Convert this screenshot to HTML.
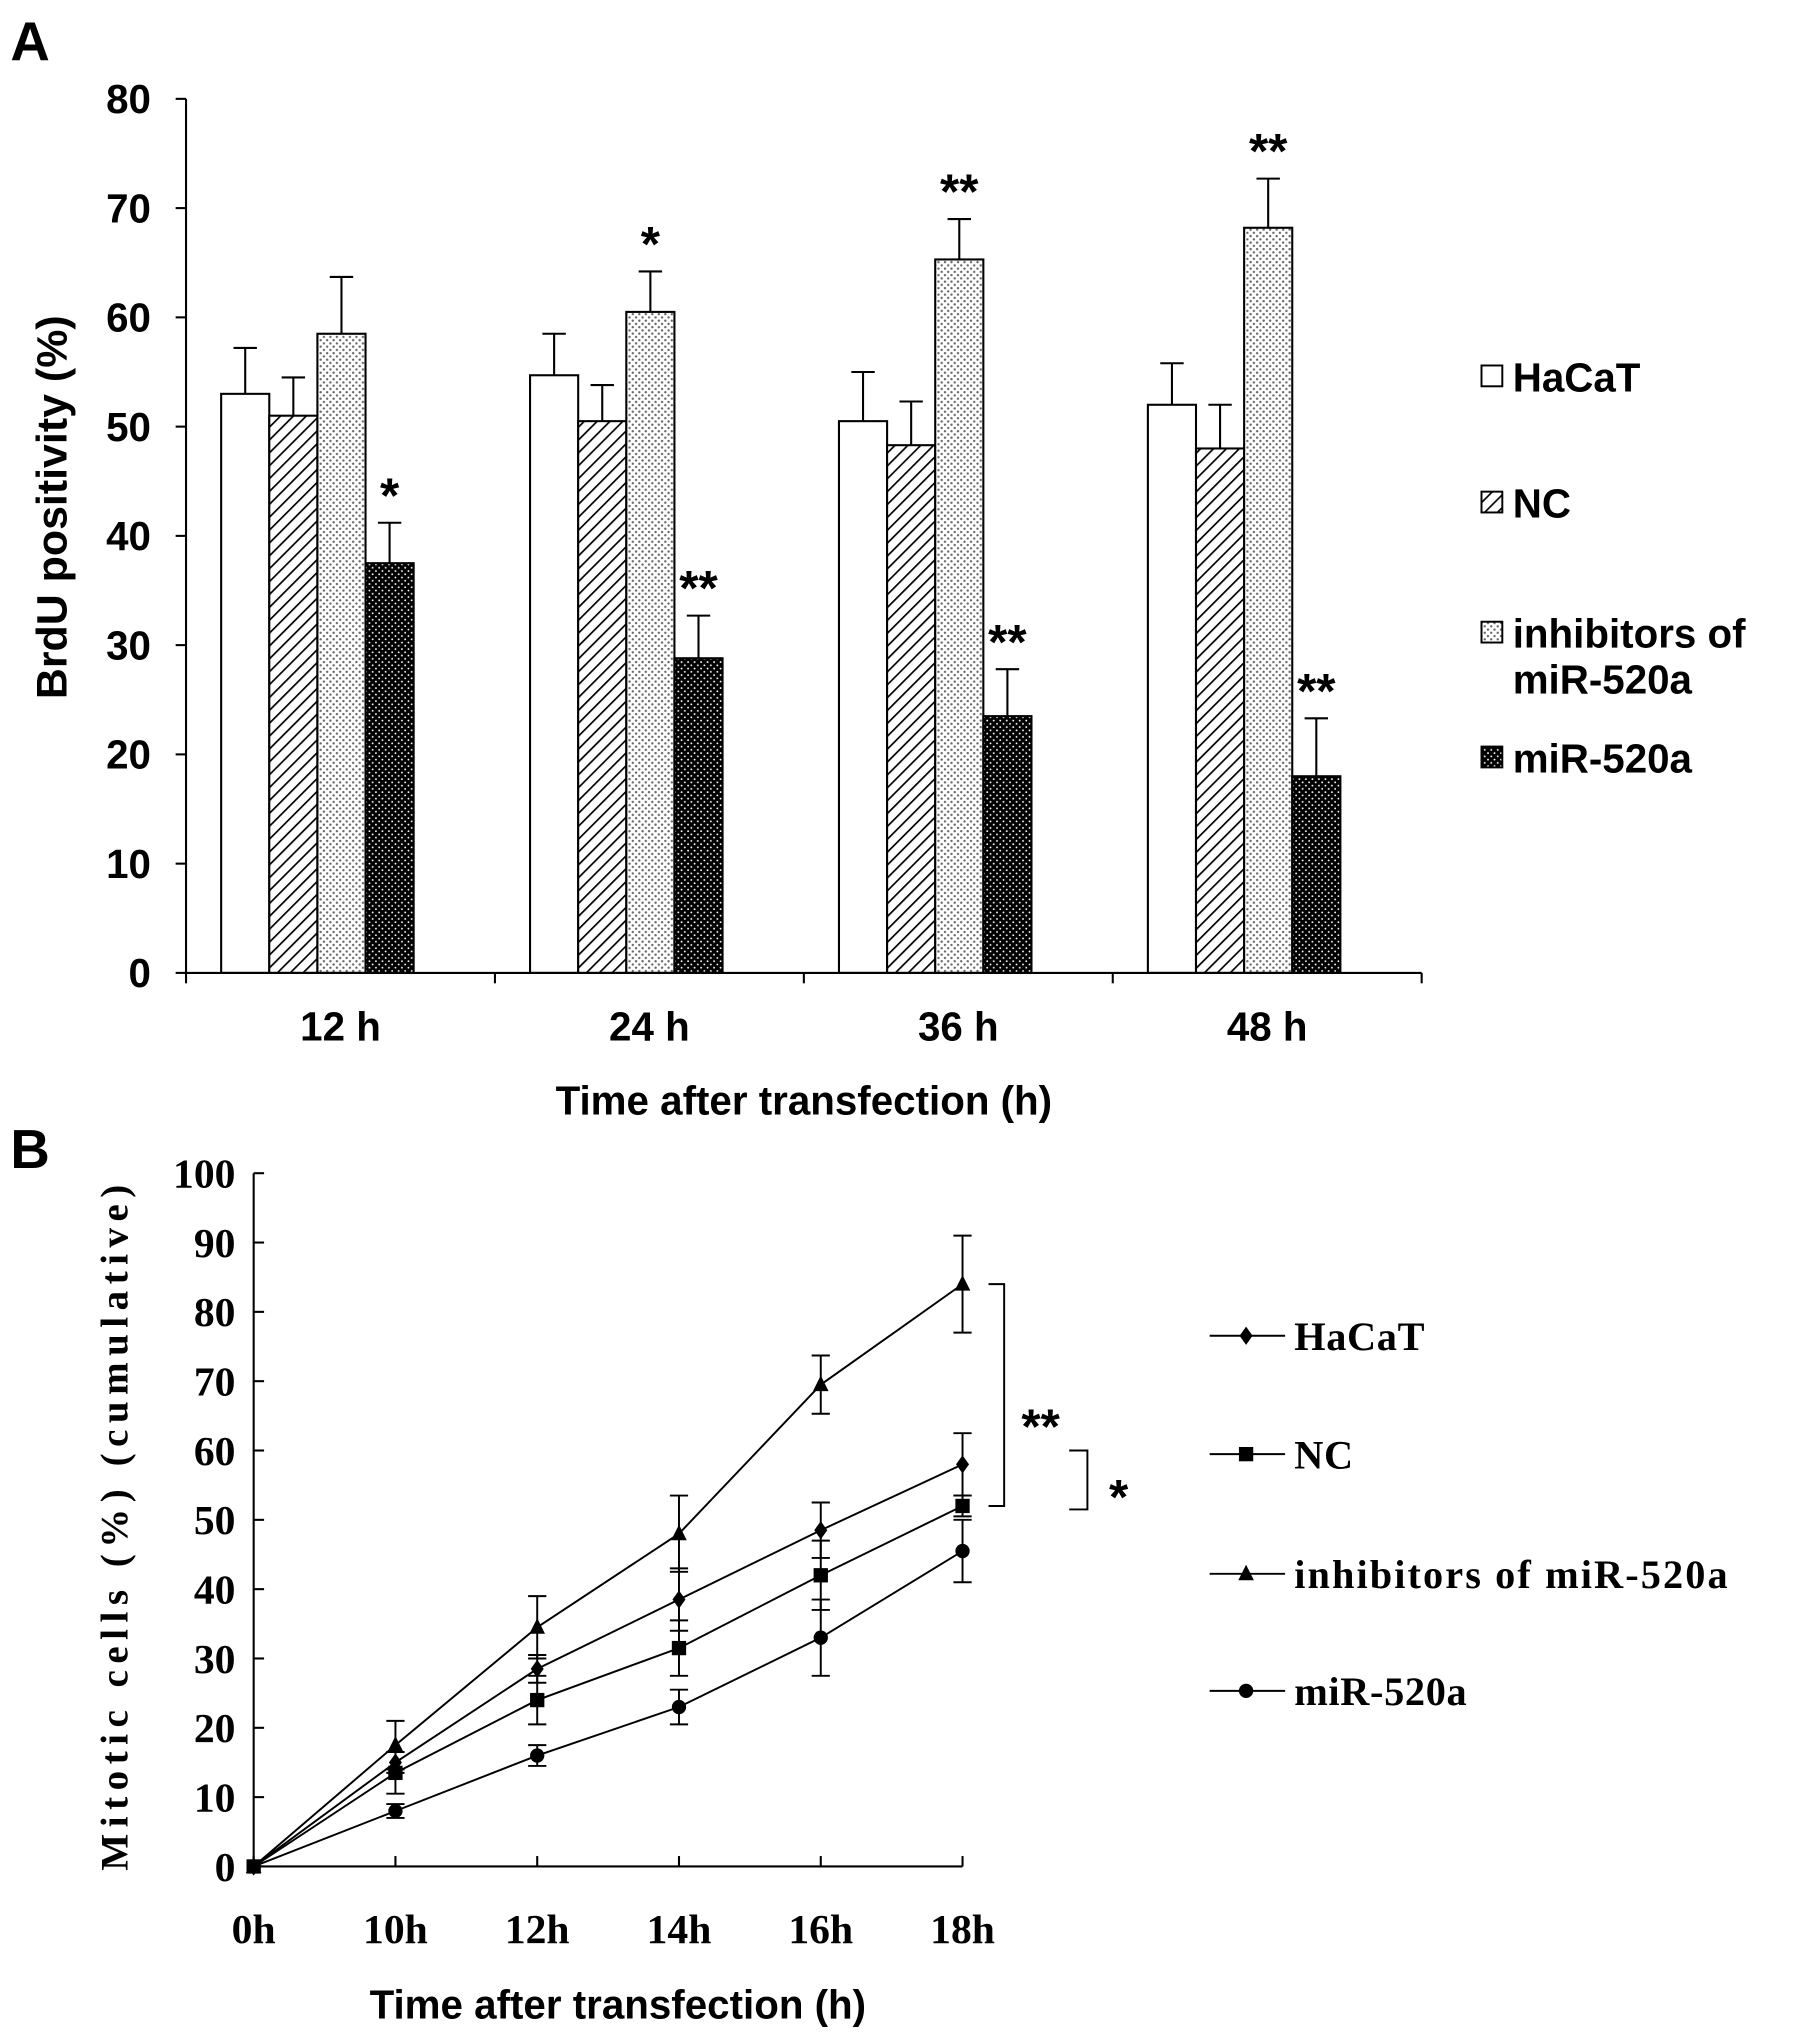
<!DOCTYPE html>
<html><head><meta charset="utf-8"><style>
html,body{margin:0;padding:0;background:#fff;}
svg{display:block;}
.sa{font-family:"Liberation Sans Narrow","Liberation Sans",sans-serif;font-weight:bold;fill:#000;}
.sw{font-family:"Liberation Sans",sans-serif;font-weight:bold;fill:#000;}
.sf{font-family:"Liberation Serif",serif;font-weight:bold;fill:#000;}
</style></head><body>
<svg id="fig" width="1795" height="2044" viewBox="0 0 1380 1571.5" xmlns="http://www.w3.org/2000/svg">
<defs>
<pattern id="hatch" patternUnits="userSpaceOnUse" width="7" height="7" patternTransform="rotate(45)">
<rect width="7" height="7" fill="#fff"/><line x1="0" y1="0" x2="0" y2="7" stroke="#000" stroke-width="2.6"/></pattern>
<pattern id="dots" patternUnits="userSpaceOnUse" width="5" height="5">
<rect width="5" height="5" fill="#fff"/><circle cx="1.5" cy="1.5" r="0.9" fill="#666"/><circle cx="4" cy="4" r="0.9" fill="#666"/></pattern>
<pattern id="dark" patternUnits="userSpaceOnUse" width="5" height="5">
<rect width="5" height="5" fill="#000"/><circle cx="1.5" cy="1.5" r="0.7" fill="#fff"/><circle cx="4" cy="4" r="0.7" fill="#fff"/></pattern>
</defs>
<g id="panelA"></g>
<g id="panelB"></g>
</svg>
<script>
// ---------- Panel A data ----------
const aCategories = ["12 h","24 h","36 h","48 h"];
const aSeriesNames = ["HaCaT","NC","inhibitors of miR-520a","miR-520a"];
const aHaCaT = [53, 54.7, 50.5, 52];
const aNC = [51, 50.5, 48.3, 48];
const aInhib = [58.5, 60.5, 65.3, 68.2];
const aMiR = [37.5, 28.8, 23.5, 18];
const aErrHaCaT = [4.2, 3.8, 4.5, 3.8];
const aErrNC = [3.5, 3.3, 4, 4];
const aErrInhib = [5.2, 3.7, 3.7, 4.5];
const aErrMiR = [3.7, 3.9, 4.3, 5.3];
const aSigInhib = ["", "*", "**", "**"];
const aSigMiR = ["*", "**", "**", "**"];
const aYTicks = [0,10,20,30,40,50,60,70,80];

// ---------- Panel B data ----------
const bCategories = ["0h","10h","12h","14h","16h","18h"];
const bHaCaT = [0, 15, 28.5, 38.5, 48.5, 58];
const bNC = [0, 13.5, 24, 31.5, 42, 52];
const bInhib = [0, 17.5, 34.5, 48, 69.5, 84];
const bMiR = [0, 8, 16, 23, 33, 45.5];
const bErrHaCaT = [0, 1.5, 2, 4.5, 4, 4.5];
const bErrNC = [0, 3, 3.5, 4, 5, 1.5];
const bErrInhib = [0, 3.5, 4.5, 5.5, 4.2, 7];
const bErrMiR = [0, 1, 1.5, 2.5, 5.5, 4.5];
const bYTicks = [0,10,20,30,40,50,60,70,80,90,100];

const NS = "http://www.w3.org/2000/svg";
function mk(parent, tag, attrs, text){
  const e = document.createElementNS(NS, tag);
  for (const k in attrs) e.setAttribute(k, attrs[k]);
  if (text !== undefined) e.textContent = text;
  parent.appendChild(e); return e;
}

// ===== Panel A =====
(function(){
  const g = document.getElementById('panelA');
  const x0 = 143, x1 = 1093, y0 = 748, y80 = 76;
  const yA = v => y0 - (v/80)*(y0-y80);
  const catW = (x1-x0)/aCategories.length;
  const barW = 37, off = 27;
  const fills = ["#fff","url(#hatch)","url(#dots)","url(#dark)"];
  const vals = [aHaCaT, aNC, aInhib, aMiR];
  const errs = [aErrHaCaT, aErrNC, aErrInhib, aErrMiR];
  const t = mk(g,'text',{x:8,y:46,class:'sw','font-size':42}, 'A');
  
  
  aCategories.forEach((c,i)=>{
    vals.forEach((arr,s)=>{
      const x = x0 + i*catW + off + s*barW;
      const v = arr[i], e = errs[s][i];
      const r = mk(g,'rect',{x:x,y:yA(v),width:barW,height:yA(0)-yA(v),fill:fills[s],stroke:'#000','stroke-width':1.6});
      
      
      const cx = x + barW/2;
      const eb = mk(g,'path',{d:`M${cx},${yA(v)}V${yA(v+e)}M${cx-9},${yA(v+e)}H${cx+9}`,stroke:'#000','stroke-width':1.6,fill:'none'});
      
      
      const sig = s===2 ? aSigInhib[i] : (s===3 ? aSigMiR[i] : "");
      if (sig){
        const st = mk(g,'text',{x:cx,y:yA(v+e)-8,'text-anchor':'middle',class:'sw','font-size':38}, sig);
        
        
      }
    });
    const lb = mk(g,'text',{x:x0+(i+0.5)*catW,y:800,'text-anchor':'middle',class:'sa','font-size':31,transform:''}, c);
    
    
  });
  const ax = mk(g,'path',{d:`M${x0},${y80}V${y0}H${x1}`,stroke:'#000','stroke-width':1.6,fill:'none'});
  
  
  for (let i=0;i<=aCategories.length;i++){
    const tk = mk(g,'line',{x1:x0+i*catW,x2:x0+i*catW,y1:y0,y2:y0+8,stroke:'#000','stroke-width':1.6});
    
    
  }
  aYTicks.forEach(v=>{
    const tk = mk(g,'line',{x1:x0-8,x2:x0,y1:yA(v),y2:yA(v),stroke:'#000','stroke-width':1.6});
    
    
    const tl = mk(g,'text',{x:116,y:yA(v)+11,'text-anchor':'end',class:'sa','font-size':31}, String(v));
    
    
  });
  const yt = mk(g,'text',{x:0,y:0,transform:'translate(51,390) rotate(-90)','text-anchor':'middle',class:'sw','font-size':33}, 'BrdU positivity (%)');
  
  
  const xt = mk(g,'text',{x:618,y:857,'text-anchor':'middle',class:'sa','font-size':31}, 'Time after transfection (h)');
  
  
  const legY = [290, 387, 487, 583];
  const legText = [["HaCaT"],["NC"],["inhibitors of","miR-520a"],["miR-520a"]];
  legY.forEach((y,s)=>{
    const sw = mk(g,'rect',{x:1139,y:y-9,width:16,height:16,fill:fills[s],stroke:'#000','stroke-width':1.5});
    
    
    legText[s].forEach((tx,k)=>{
      const lt = mk(g,'text',{x:1163,y:y+11+k*35,class:'sa','font-size':31}, tx);
      
      
    });
  });
})();

// ===== Panel B =====
(function(){
  const g = document.getElementById('panelB');
  const x0 = 195, x1 = 740, y0 = 1435, y100 = 902;
  const yB = v => y0 - (v/100)*(y0-y100);
  const step = (x1-x0)/(bCategories.length-1);
  const xB = i => x0 + i*step;
  const t = mk(g,'text',{x:8,y:898,class:'sw','font-size':42}, 'B');
  
  
  const ax = mk(g,'path',{d:`M${x0},${y100}V${y0}H${x1}`,stroke:'#000','stroke-width':1.6,fill:'none'});
  
  
  bYTicks.forEach(v=>{
    const tk = mk(g,'line',{x1:x0,x2:x0+8,y1:yB(v),y2:yB(v),stroke:'#000','stroke-width':1.6});
    
    
    const tl = mk(g,'text',{x:181,y:yB(v)+11,'text-anchor':'end',class:'sf','font-size':32}, String(v));
    
    
  });
  bCategories.forEach((c,i)=>{
    const tk = mk(g,'line',{x1:xB(i),x2:xB(i),y1:y0,y2:y0-8,stroke:'#000','stroke-width':1.6});
    
    
    const tl = mk(g,'text',{x:xB(i),y:1494,'text-anchor':'middle',class:'sf','font-size':32}, c);
    
    
  });
  const series = [bHaCaT,bNC,bInhib,bMiR];
  const errs = [bErrHaCaT,bErrNC,bErrInhib,bErrMiR];
  const names = ["hacat","nc","inhibitors","mir-520a"];
  function marker(par, kind, x, y){
    let m;
    if (kind===0) m = mk(par,'path',{d:`M${x},${y-7}L${x+5},${y}L${x},${y+7}L${x-5},${y}Z`,fill:'#000'});
    else if (kind===1) m = mk(par,'rect',{x:x-5.5,y:y-5.5,width:11,height:11,fill:'#000'});
    else if (kind===2) m = mk(par,'path',{d:`M${x},${y-7}L${x+6},${y+5}L${x-6},${y+5}Z`,fill:'#000'});
    else m = mk(par,'circle',{cx:x,cy:y,r:5.5,fill:'#000'});
    return m;
  }
  series.forEach((arr,s)=>{
    const d = arr.map((v,i)=>(i?'L':'M')+xB(i)+','+yB(v)).join('');
    const ln = mk(g,'path',{d:d,stroke:'#000','stroke-width':1.5,fill:'none'});
    
    
    arr.forEach((v,i)=>{
      const e = errs[s][i];
      if (e>0){
        const x = xB(i);
        const eb = mk(g,'path',{d:`M${x},${yB(v-e)}V${yB(v+e)}M${x-7},${yB(v-e)}H${x+7}M${x-7},${yB(v+e)}H${x+7}`,stroke:'#000','stroke-width':1.5,fill:'none'});
        
        
      }
      const m = marker(g, s, xB(i), yB(v));
      
      
    });
  });
  const last = bCategories.length-1;
  const br1 = mk(g,'path',{d:`M760,${yB(bInhib[last])}H772V${yB(bNC[last])}H760`,stroke:'#000','stroke-width':1.5,fill:'none'});
  
  
  const s1 = mk(g,'text',{x:800,y:1110,'text-anchor':'middle',class:'sw','font-size':38}, '**');
  
  
  const br2 = mk(g,'path',{d:`M822,${yB(60)}H836V${yB(51.5)}H822`,stroke:'#000','stroke-width':1.5,fill:'none'});
  
  
  const s2 = mk(g,'text',{x:860,y:1164,'text-anchor':'middle',class:'sw','font-size':38}, '*');
  
  
  const yt = mk(g,'text',{x:0,y:0,transform:'translate(98,1172) rotate(-90)','text-anchor':'middle',class:'sf','font-size':30,'letter-spacing':'5'}, 'Mitotic cells (%) (cumulative)');
  
  
  const xt = mk(g,'text',{x:475,y:1552,'text-anchor':'middle',class:'sa','font-size':31}, 'Time after transfection (h)');
  
  
  const legY = [1027, 1118, 1210, 1300];
  const legT = ["HaCaT","NC","inhibitors of miR-520a","miR-520a"];
  legY.forEach((y,s)=>{
    const ll = mk(g,'line',{x1:930,x2:988,y1:y,y2:y,stroke:'#000','stroke-width':1.5});
    
    
    const m = marker(g, s, 958, y);
    
    
    const lt = mk(g,'text',{x:995,y:y+11,class:'sf','font-size':31,'letter-spacing':s===2?'1.6':'0.5'}, legT[s]);
    
    
  });
})();
</script>
</body></html>
